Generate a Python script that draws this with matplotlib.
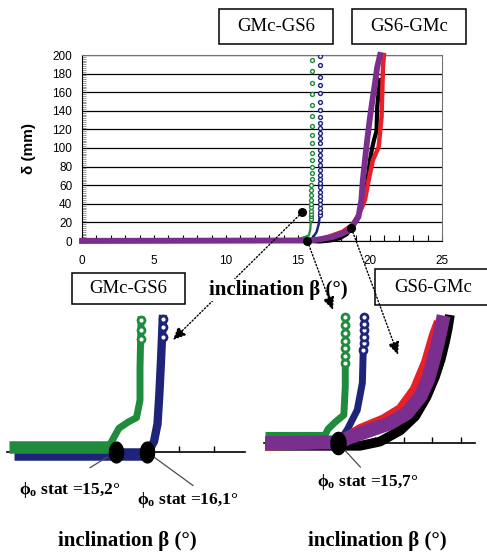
import numpy as np
import matplotlib
matplotlib.use("Agg")
import matplotlib.pyplot as plt
from matplotlib.path import Path
from matplotlib.patches import Rectangle

plt.rcParams["font.family"] = "Liberation Sans"
plt.rcParams["mathtext.fontset"] = "custom"
plt.rcParams["mathtext.rm"] = "Liberation Serif:bold"
plt.rcParams["mathtext.it"] = "Liberation Serif:bold"
plt.rcParams["mathtext.bf"] = "Liberation Serif:bold"

# ---------------------------------------------------------------
# main chart : displacement delta (mm) vs inclination beta (deg)

green_line_x = [0, 14.8, 15.2, 15.5, 15.75, 15.85, 15.9]
green_line_y = [1.5, 1.5, 3, 4.5, 6, 12, 22]
green_circ_x = [15.9, 15.9, 15.91, 15.91, 15.92, 15.92, 15.93, 15.93, 15.93, 15.93, 15.94, 15.94,
                15.94, 15.94, 15.94, 15.94, 15.94, 15.94, 15.94, 15.94, 15.94, 15.94, 15.94, 15.94]
green_circ_y = [24, 27, 29, 32.6, 36.2, 39.8, 44, 49.5, 54.8, 60.2, 66.3, 73.4,
                80, 87, 95, 105, 114, 123.7, 134.4, 146, 157.7, 169.6, 183, 194.6]

blue_line_x = [0, 15.8, 16.05, 16.3, 16.45, 16.5]
blue_line_y = [0.8, 0.8, 4, 10, 19, 26]
blue_circ_x = [16.5, 16.5, 16.51, 16.51, 16.52, 16.52, 16.52, 16.52, 16.53, 16.53, 16.53, 16.53, 16.53,
               16.53, 16.53, 16.53, 16.53, 16.53, 16.53, 16.53, 16.53, 16.53, 16.53, 16.53, 16.53,
               16.53, 16.53, 16.53, 16.53]
blue_circ_y = [28, 31.5, 35.2, 39.8, 44, 48.4, 53, 57.7, 62, 66.3, 71, 76.3, 81.7, 87, 92.5,
               97.8, 105, 110.4, 115.8, 121.2, 127.2, 133.7, 140.9, 149.8, 158.8, 167.7, 176.7, 189, 199]

red_x = [0, 15.8, 16.5, 17.2, 18.1, 18.75, 19.2, 19.65, 19.9, 20.2, 20.6, 20.8, 20.9, 20.97]
red_y = [1, 1, 2, 5, 10, 17, 28, 44, 65, 87, 101, 133, 187, 200]

black_x = [0, 15.8, 16.5, 17.2, 17.9, 18.4, 19.1, 19.45, 19.8, 20.0, 20.15, 20.3, 20.45, 20.5, 20.6, 20.7]
black_y = [1, 0, -0.5, 0.5, 3, 7.5, 25, 37, 62, 87, 100, 110, 118, 144, 160, 173]

purple_x = [0, 15.8, 16.5, 17.4, 18.0, 18.6, 19.2, 19.4, 19.5, 19.65, 19.8, 20.0, 20.2, 20.35, 20.5, 20.7]
purple_y = [0, 0.5, 1.8, 4.3, 7.5, 11.8, 26, 44, 65, 87, 108, 133, 155, 170, 187, 200]

callout_x = [15.3, 15.65, 18.7]
callout_y = [31, 0, 14]

# zoomed views (same tests, enlarged near the start of sliding)
phi_left = [15.2, 16.1]
phi_right = [15.7]
phi_left_txt = ["15,2", "16,1"]
phi_right_txt = ["15,7"]

zl_green_flat_x = [12.15, 15.0]
zl_green_flat_y = [0.7, 0.7]
zl_green_rise_x = [15.0, 15.3, 15.57, 15.8, 15.9, 15.9, 15.93]
zl_green_rise_y = [0.7, 3.4, 4.3, 4.9, 7.4, 12, 18.9]
zl_green_ring_x = [15.93, 15.93, 15.93]
zl_green_ring_y = [16.2, 17.5, 18.9]
zl_blue_flat_x = [12.3, 16.1]
zl_blue_flat_y = [-0.3, -0.3]
zl_blue_rise_x = [16.1, 16.3, 16.4, 16.45, 16.5, 16.55]
zl_blue_rise_y = [-0.3, 1.5, 4, 8, 13, 19]
zl_blue_ring_x = [16.55, 16.55, 16.55]
zl_blue_ring_y = [16.5, 17.8, 19]

zr_green_flat_x = [13.14, 15.2]
zr_green_flat_y = [0.85, 0.85]
zr_green_rise_x = [15.2, 15.35, 15.6, 15.9, 15.95, 15.95]
zr_green_rise_y = [0.85, 2, 3, 4, 8, 12]
zr_green_ring_x = [15.95, 15.95, 15.95, 15.95, 15.95, 15.95, 15.95]
zr_green_ring_y = [11.5, 12.5, 13.6, 14.6, 15.7, 16.8, 18]
zr_blue_rise_x = [15.7, 16.02, 16.37, 16.55, 16.58]
zr_blue_rise_y = [0, 1.9, 4.7, 8.6, 13.3]
zr_blue_ring_x = [16.58, 16.59, 16.59, 16.6, 16.6, 16.6]
zr_blue_ring_y = [13.3, 14.3, 15.2, 16.1, 17, 18]
zr_black_x = [13.14, 16.47, 17.17, 17.88, 18.4, 18.8, 19.1, 19.3, 19.45, 19.55, 19.62]
zr_black_y = [-0.4, -0.4, 0.2, 1.8, 3.8, 6.6, 9.5, 12, 14.5, 16.5, 18.3]
zr_red_x = [13.14, 15.7, 16.47, 17.3, 17.9, 18.4, 18.8, 19.07, 19.25]
zr_red_y = [-0.3, 0, 1.9, 3.3, 4.8, 7.6, 11.5, 15.3, 17.3]
zr_purple_x = [13.14, 15.7, 16.1, 16.8, 17.5, 18.1, 18.58, 18.85, 19.03, 19.18, 19.3, 19.4]
zr_purple_y = [0, 0.1, 0.8, 1.8, 2.8, 4.2, 6.6, 9.0, 11.6, 14.0, 16.2, 18.2]

GREEN = "#1e8c3c"
BLUE = "#1e247a"
RED = "#e8202a"
PURPLE = "#7a2e8e"

W, H = 487, 557
fig = plt.figure(figsize=(W / 100, H / 100), dpi=100)


def px_box(x0, y0, x1, y1):
    return [x0 / W, 1 - y1 / H, (x1 - x0) / W, (y1 - y0) / H]


# ---------------------------------------------------------------
ax = fig.add_axes(px_box(82, 55, 442, 241))
ax.set_xlim(0, 25)
ax.set_ylim(0, 200)
ax.set_xticks(np.arange(0, 26, 5))
ax.set_yticks(np.arange(0, 201, 20))
ax.set_xticks(np.arange(0, 26, 1), minor=True)
ax.set_yticks(np.arange(0, 201, 2), minor=True)
ax.tick_params(axis="x", which="both", direction="in", length=4, width=0.8, labelsize=8.5, pad=10)
ax.tick_params(axis="y", which="major", length=0, labelsize=8.5, pad=7)
ax.tick_params(axis="y", which="minor", direction="in", length=3, width=0.4, color="0.3")
ax.grid(axis="y", color="black", lw=0.9)
ax.set_axisbelow(True)
for s in ["top", "right"]:
    ax.spines[s].set_color("0.45")
ax.set_ylabel("δ (mm)", fontsize=11, fontweight="bold")
ax.yaxis.set_label_coords(-0.128, 0.5)

ax.plot(green_line_x, green_line_y, color=GREEN, lw=1.6, zorder=3, clip_on=False)
ax.plot(green_circ_x, green_circ_y, "o", ms=2.8, mfc="white", mec=GREEN, mew=1.0, zorder=3)
ax.plot(blue_line_x, blue_line_y, color=BLUE, lw=1.8, zorder=3, clip_on=False)
ax.plot(blue_circ_x, blue_circ_y, "o", ms=2.8, mfc="white", mec=BLUE, mew=1.0, zorder=3)
ax.plot(black_x, black_y, color="black", lw=3, zorder=3, clip_on=False)
ax.plot(red_x, red_y, color=RED, lw=3.2, zorder=3, clip_on=False)
ax.plot(purple_x, purple_y, color=PURPLE, lw=4.2, zorder=4, clip_on=False)
ax.plot(callout_x, callout_y, "o", color="black", ms=5.5, zorder=6, clip_on=False)

# ---------------------------------------------------------------
t = np.linspace(0, 2 * np.pi, 41)
oval = Path(np.column_stack([0.68 * np.cos(t), np.sin(t)]))


def zoom_axes(box, xlim, ticks):
    a = fig.add_axes(box)
    a.set_xlim(*xlim)
    a.set_ylim(0, 20)
    a.patch.set_visible(False)
    for s in ["top", "right", "left"]:
        a.spines[s].set_visible(False)
    a.spines["bottom"].set_linewidth(1.2)
    a.set_xticks(ticks)
    a.set_yticks([])
    a.tick_params(axis="x", direction="in", length=4, width=1, labelbottom=False)
    return a


axl = zoom_axes(px_box(7, 312, 245, 452), (12.1, 18.9), [13, 14, 15, 16, 17, 18])
axl.plot(zl_blue_flat_x, zl_blue_flat_y, color=BLUE, lw=9, solid_capstyle="butt", zorder=3, clip_on=False)
axl.plot(zl_blue_rise_x, zl_blue_rise_y, color=BLUE, lw=6, zorder=3, clip_on=False)
axl.plot(zl_blue_ring_x, zl_blue_ring_y, "o", ms=5, mfc="white", mec=BLUE, mew=2, zorder=3, clip_on=False)
axl.plot(zl_green_flat_x, zl_green_flat_y, color=GREEN, lw=9, solid_capstyle="butt", zorder=3, clip_on=False)
axl.plot(zl_green_rise_x, zl_green_rise_y, color=GREEN, lw=5, zorder=3, clip_on=False)
axl.plot(zl_green_ring_x, zl_green_ring_y, "o", ms=5, mfc="white", mec=GREEN, mew=2, zorder=3, clip_on=False)
axl.plot(phi_left, [0] * len(phi_left), marker=oval, ls="none", ms=15, color="black", zorder=6, clip_on=False)

axr = zoom_axes(px_box(264, 303, 475, 443), (13.1, 20.5), [14, 15, 16, 17, 18, 19, 20])
axr.plot(zr_green_flat_x, zr_green_flat_y, color=GREEN, lw=8, solid_capstyle="butt", zorder=3, clip_on=False)
axr.plot(zr_green_rise_x, zr_green_rise_y, color=GREEN, lw=5, zorder=3, clip_on=False)
axr.plot(zr_green_ring_x, zr_green_ring_y, "o", ms=5, mfc="white", mec=GREEN, mew=2, zorder=3, clip_on=False)
axr.plot(zr_blue_rise_x, zr_blue_rise_y, color=BLUE, lw=5, zorder=3, clip_on=False)
axr.plot(zr_blue_ring_x, zr_blue_ring_y, "o", ms=5, mfc="white", mec=BLUE, mew=2, zorder=3, clip_on=False)
axr.plot(zr_black_x, zr_black_y, color="black", lw=7, solid_capstyle="butt", zorder=3, clip_on=False)
axr.plot(zr_red_x, zr_red_y, color=RED, lw=8, solid_capstyle="butt", zorder=3, clip_on=False)
axr.plot(zr_purple_x, zr_purple_y, color=PURPLE, lw=10, solid_capstyle="butt", zorder=4, clip_on=False)
axr.plot(phi_right, [0] * len(phi_right), marker=oval, ls="none", ms=16, color="black", zorder=6, clip_on=False)

# labels of the static friction angles
lead = dict(arrowstyle="-", color="0.3", lw=0.9)
phi_fmt = r"$\phi_\mathrm{o}$ stat =%s°"
axl.annotate(phi_fmt % phi_left_txt[0], xy=(phi_left[0], 0), xytext=(70, H - 490),
             textcoords="figure pixels", ha="center", va="center", family="Liberation Serif",
             fontweight="bold", fontsize=12.5, annotation_clip=False,
             arrowprops=dict(lead, relpos=(0.5, 1), shrinkA=13, shrinkB=7))
axl.annotate(phi_fmt % phi_left_txt[1], xy=(phi_left[1], 0), xytext=(188, H - 500),
             textcoords="figure pixels", ha="center", va="center", family="Liberation Serif",
             fontweight="bold", fontsize=12.5, annotation_clip=False,
             arrowprops=dict(lead, relpos=(0.61, 1), shrinkA=2, shrinkB=5))
axr.annotate(phi_fmt % phi_right_txt[0], xy=(phi_right[0], 0), xytext=(368, H - 482),
             textcoords="figure pixels", ha="center", va="center", family="Liberation Serif",
             fontweight="bold", fontsize=12.5, annotation_clip=False,
             arrowprops=dict(lead, relpos=(0.47, 1), shrinkA=2, shrinkB=5))

# ---------------------------------------------------------------
# overlay : boxes, titles and dotted call-out arrows
ov = fig.add_axes([0, 0, 1, 1])
ov.set_xlim(0, W)
ov.set_ylim(H, 0)
ov.axis("off")

boxes = [(219, 9, 114, 35, "GMc-GS6"), (352, 9, 114, 35, "GS6-GMc"),
         (72, 273, 113, 31, "GMc-GS6"), (375, 269, 117, 36, "GS6-GMc")]
for bx, by, bw, bh, txt in boxes:
    ov.add_patch(Rectangle((bx, by), bw, bh, fc="white", ec="black", lw=1.1, zorder=2))
    cx = bx + bw / 2 if bx + bw <= W else 433
    ov.text(cx, by + bh / 2, txt, ha="center", va="center", family="Liberation Serif",
            fontsize=13.5, zorder=3)

dots = dict(arrowstyle="-|>,head_length=0.55,head_width=0.25", linestyle=(0, (1, 1.5)),
            lw=1, color="black", mutation_scale=14)
ov.annotate("", xy=(16.84, 16), xycoords=axl.transData,
            xytext=(callout_x[0], callout_y[0]), textcoords=ax.transData,
            arrowprops=dict(dots, shrinkA=3, shrinkB=0), zorder=1, annotation_clip=False)

ov.text(278, 290, "inclination β (°)", ha="center", va="center", family="Liberation Serif",
        fontweight="bold", fontsize=15, zorder=4,
        bbox=dict(fc="white", ec="none", pad=1))
ov.text(127, 541, "inclination β (°)", ha="center", va="center", family="Liberation Serif",
        fontweight="bold", fontsize=15)
ov.text(377, 541, "inclination β (°)", ha="center", va="center", family="Liberation Serif",
        fontweight="bold", fontsize=15)

ov.annotate("", xy=(15.52, 19), xycoords=axr.transData,
            xytext=(callout_x[1], callout_y[1]), textcoords=ax.transData,
            arrowprops=dict(dots, shrinkA=3, shrinkB=0), zorder=5, annotation_clip=False)
ov.annotate("", xy=(17.8, 12.6), xycoords=axr.transData,
            xytext=(callout_x[2], callout_y[2]), textcoords=ax.transData,
            arrowprops=dict(dots, shrinkA=3, shrinkB=0), zorder=5, annotation_clip=False)

fig.savefig("out.png", dpi=100)
